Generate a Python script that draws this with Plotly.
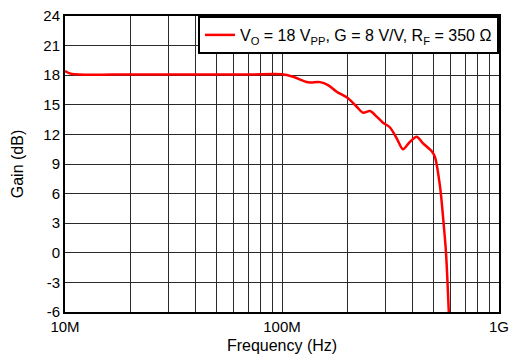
import plotly.graph_objects as go

freq_hz = [1.0e7, 1.077e7, 2.0e7, 4.0e7, 7.12e7, 9.97e7, 1.124e8, 1.318e8, 1.497e8, 1.63e8,
           1.787e8, 2.015e8, 2.21e8, 2.362e8, 2.544e8, 2.732e8, 2.92e8, 3.146e8, 3.378e8,
           3.61e8, 3.89e8, 4.175e8, 4.465e8, 4.897e8, 5.07e8, 5.35e8, 5.54e8, 5.70e8, 5.87e8]
gain_db = [18.43, 18.12, 18.08, 18.08, 18.08, 18.1, 17.85, 17.28, 17.3, 17.0,
           16.33, 15.66, 14.8, 14.2, 14.37, 13.8, 13.19, 12.7, 11.6,
           10.49, 11.26, 11.77, 11.1, 10.3, 9.7, 6.7, 3.3, 0.0, -6.0]

series_name = "V<sub>O</sub> = 18 V<sub>PP</sub>, G = 8 V/V, R<sub>F</sub> = 350 Ω"

x_tickvals = [m * 10 ** e for e in (7, 8) for m in range(1, 10)] + [1e9]
x_ticktext = ["10M" if v == 1e7 else "100M" if v == 1e8 else "1G" if v == 1e9 else "" for v in x_tickvals]
y_tickvals = [-6, -3, 0, 3, 6, 9, 12, 15, 18, 21, 24]
y_ticktext = [str(v) for v in y_tickvals]

fig = go.Figure()
fig.add_trace(go.Scatter(x=freq_hz, y=gain_db, mode="lines", name=series_name,
                         line=dict(color="#ff0000", width=2.5, shape="spline", smoothing=0.8)))

fig.update_layout(
    width=509, height=355,
    margin=dict(l=65, r=10, t=16, b=43),
    paper_bgcolor="white", plot_bgcolor="white",
    font=dict(family="Liberation Sans, Arial, sans-serif", size=15, color="black"),
    showlegend=True,
    legend=dict(x=1, y=1, xanchor="right", yanchor="top", bgcolor="white",
                bordercolor="black", borderwidth=2, font=dict(size=16)),
)
fig.update_xaxes(type="log", range=[7, 9], tickvals=x_tickvals, ticktext=x_ticktext,
                 showgrid=True, gridcolor="#2a2a2a", gridwidth=1,
                 showline=True, linecolor="black", linewidth=2, mirror=True,
                 ticks="", automargin=False, ticklabeloverflow="allow",
                 title=dict(text="Frequency (Hz)", standoff=6, font=dict(size=16)), zeroline=False)
fig.update_yaxes(range=[-6, 24], tickvals=y_tickvals, ticktext=y_ticktext,
                 showgrid=True, gridcolor="#2a2a2a", gridwidth=1,
                 showline=True, linecolor="black", linewidth=2, mirror=True,
                 ticks="", automargin=False,
                 title=dict(text="Gain (dB)", standoff=16, font=dict(size=16)), zeroline=False)

fig.write_html("out.html", config={"displayModeBar": False},
               post_script="document.body.style.margin='0';")
